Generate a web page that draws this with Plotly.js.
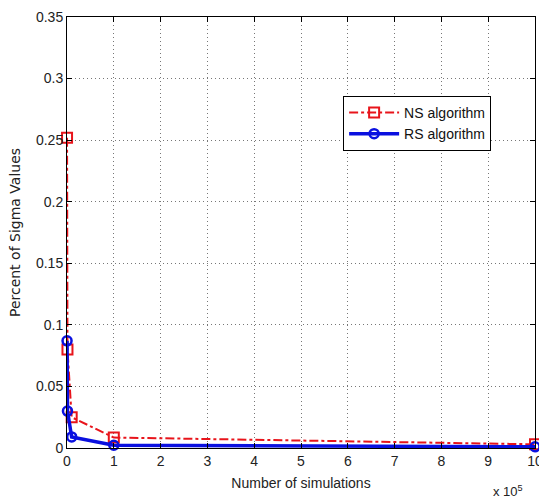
<!DOCTYPE html>
<html><head><meta charset="utf-8">
<script src="https://cdn.plot.ly/plotly-3.0.1.min.js"></script>
<style>html,body{margin:0;padding:0;background:#fff}#plot{width:539px;height:502px}</style>
</head><body><div id="plot"></div>
<script>
var simulations = [100, 1000, 10000, 100000, 1000000];
var nsValues = [0.252, 0.080, 0.025, 0.0085, 0.0030];
var rsValues = [0.087, 0.030, 0.009, 0.0022, 0.0010];
var xTickVals = [0,100000,200000,300000,400000,500000,600000,700000,800000,900000,1000000];
var xTickText = ['0','1','2','3','4','5','6','7','8','9','10'];
var yTickVals = [0,0.05,0.1,0.15,0.2,0.25,0.3,0.35];
var yTickText = ['0','0.05','0.1','0.15','0.2','0.25','0.3','0.35'];

var fontFam = '"Liberation Sans", Arial, sans-serif';

var traces = [
  {x: simulations, y: nsValues, name: 'NS algorithm', mode: 'lines+markers',
   line: {color: '#e8141b', width: 2, dash: 'dashdot'},
   marker: {symbol: 'square-open', size: 10, color: '#e8141b', line: {width: 2, color: '#e8141b'}},
   cliponaxis: false},
  {x: simulations, y: rsValues, name: 'RS algorithm', mode: 'lines+markers',
   line: {color: '#0a10e0', width: 3.5},
   marker: {symbol: 'circle-open', size: 9, color: '#0a10e0', line: {width: 2.5, color: '#0a10e0'}},
   cliponaxis: false}
];

var axisCommon = {
  showline: true, linecolor: '#000', linewidth: 1, mirror: 'ticks',
  ticks: 'inside', ticklen: 5, tickcolor: '#000',
  showgrid: true, gridcolor: '#777', gridwidth: 1, griddash: '1px,3px',
  zeroline: false, tickfont: {family: fontFam, size: 14, color: '#222'},
  ticklabeloverflow: 'allow'
};

var layout = {
  width: 539, height: 502,
  margin: {l: 67, r: 4, t: 17, b: 54},
  paper_bgcolor: '#fff', plot_bgcolor: '#fff',
  showlegend: true,
  legend: {x: 0.59, y: 0.817, xanchor: 'left', yanchor: 'top',
    bordercolor: '#000', borderwidth: 1, bgcolor: '#fff', itemwidth: 50,
    font: {family: fontFam, size: 14, color: '#111'}, tracegroupgap: 2},
  xaxis: Object.assign({}, axisCommon, {
    range: [0, 1000000], tickvals: xTickVals, ticktext: xTickText,
    title: {text: 'Number of simulations', font: {family: fontFam, size: 14, color: '#222'}, standoff: 10}
  }),
  yaxis: Object.assign({}, axisCommon, {
    range: [0, 0.35], tickvals: yTickVals, ticktext: yTickText,
    title: {text: 'Percent of Sigma Values', font: {family: '"DejaVu Sans", sans-serif', size: 14, color: '#222'}, standoff: 12}
  }),
  annotations: [{
    xref: 'paper', yref: 'paper', x: 0.979, y: -0.100, xanchor: 'right', yanchor: 'middle',
    text: 'x 10<sup>5</sup>', showarrow: false, font: {family: fontFam, size: 13, color: '#222'}
  }]
};

Plotly.newPlot('plot', traces, layout, {displayModeBar: false, staticPlot: true});
</script></body></html>
